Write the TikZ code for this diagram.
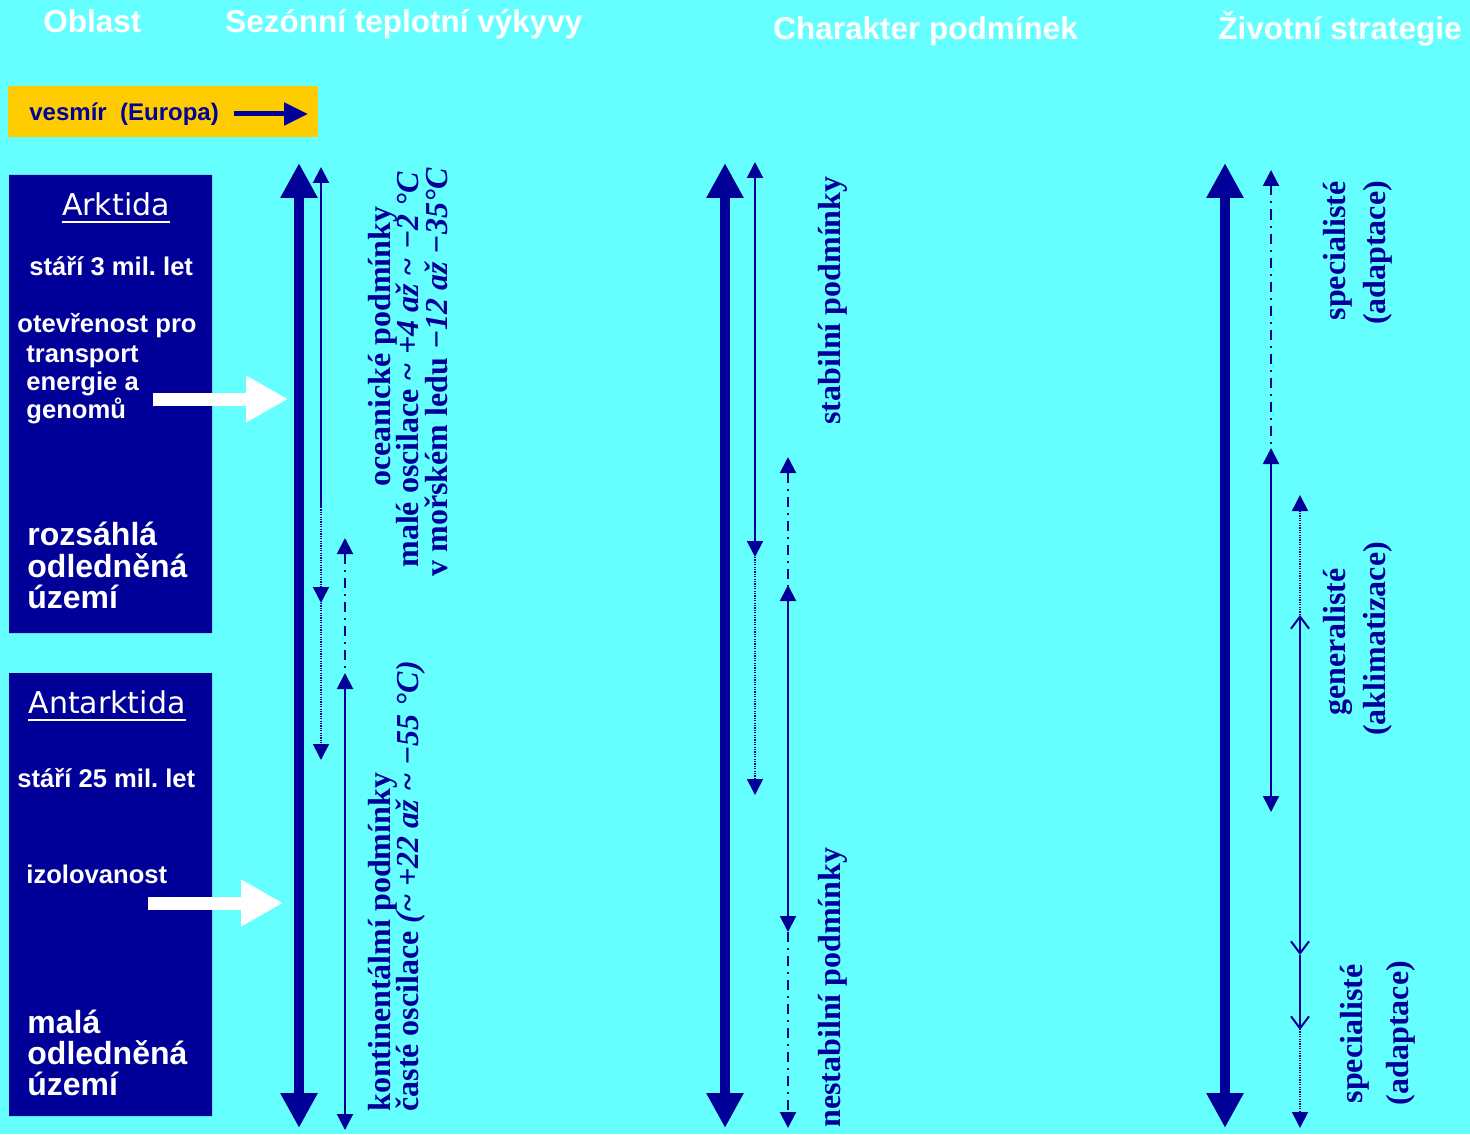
\documentclass[tikz,border=0pt]{standalone}
\usepackage{fontspec}
\setmainfont{Liberation Serif}
\setsansfont{Liberation Sans}
\newfontfamily\comicfont{DejaVu Sans}
\usetikzlibrary{arrows.meta}
\definecolor{tyrkys}{HTML}{66FFFF}
\definecolor{modra}{HTML}{000099}
\definecolor{zluta}{HTML}{FFCC00}
\frenchspacing
\newcommand{\kurz}[1]{{\itshape #1}}
\tikzset{
	hlav/.style={anchor=base west,inner sep=0pt,text=white,font=\sffamily\bfseries\fontsize{15.75}{18}\selectfont},
	maly/.style={anchor=base west,inner sep=0pt,text=white,font=\sffamily\bfseries\fontsize{12.8}{15}\selectfont},
	velky/.style={anchor=base west,inner sep=0pt,text=white,font=\sffamily\bfseries\fontsize{16}{19}\selectfont},
	nazev/.style={anchor=base,inner sep=0pt,text=white,font=\comicfont\fontsize{15}{18}\selectfont},
	svisly/.style={rotate=90,anchor=base west,inner sep=0pt,text=modra,font=\bfseries\fontsize{16}{16}\selectfont},
	svislyc/.style={svisly,anchor=base},
	osa/.style={draw=modra,line width=5pt,{Triangle[width=17.5pt,length=17.5pt]}-{Triangle[width=17.5pt,length=17.5pt]}},
	plna/.style={draw=modra,line width=1pt},
	tecky/.style={draw=modra,line width=0.8pt,dash pattern=on 0.6pt off 0.6pt},
	carka/.style={draw=modra,line width=1pt,dash pattern=on 5pt off 3pt on 1pt off 3pt},
	sipka/.style={draw=white,line width=6.5pt,-{Triangle[width=22pt,length=21pt]}},
	otev/.tip={Straight Barb[width=9pt,length=6pt,line width=1pt]}
}
\begin{document}
\begin{tikzpicture}[x=0.5pt,y=-0.5pt,>={Triangle[width=8pt,length=8pt]}]
				\useasboundingbox (0,0) rectangle (1470,1134)
				;
				\fill[tyrkys] (0,0) rectangle (1470,1134)
				;
				\foreach \x/\y/\t in {43/33/Oblast, 225/33/Sezónní teplotní výkyvy, 773/40/Charakter podmínek, 1218/40/Životní strategie} \node[hlav] at (\x,\y) {\t}
				;
				\fill[zluta] (8,86) rectangle (318,137)
				;
				\node[anchor=base west,inner sep=0pt,text=modra,font=\sffamily\bfseries\fontsize{12}{14}\selectfont] (vesmir) at (29,121) {vesmír\ \ (Europa)}
				;
				\path
				(234,114) coordinate (V1)
				(308,114) coordinate (V2)
				;
				\draw[modra,line width=2.5pt,-{Triangle[width=11pt,length=12pt]}] (V1)--(V2)
				;
				\fill[modra] (9,175) rectangle (212,633) (9,673) rectangle (212,1116)
				;
				\node[nazev] (ark) at (116,215) {Arktida}
				;
				\node[nazev] (ant) at (107,713) {Antarktida}
				;
				\foreach \n in {ark,ant} \draw[white,line width=1.2pt] ([yshift=-3.5pt]\n.base west)--([yshift=-3.5pt]\n.base east)
				;
				\foreach \x/\y/\t in {29/275/stáří 3 mil. let, 17/332/otevřenost pro, 26/362/transport, 26/390/energie a, 26/418/genomů, 17/787/stáří 25 mil. let, 26/883/izolovanost} \node[maly] at (\x,\y) {\t}
				;
				\foreach \y/\t in {545/rozsáhlá, 577/odledněná, 608/území, 1033/malá, 1064/odledněná, 1095/území} \node[velky] at (27,\y) {\t}
				;
				\path
				(153,399) coordinate (S1) (288,399) coordinate (S2)
				(148,903) coordinate (S3) (283,903) coordinate (S4)
				;
				\draw[sipka] (S1)--(S2) ;
				\draw[sipka] (S3)--(S4)
				;
				\path
				(299,163) coordinate (T1) (299,1128) coordinate (B1)
				(725,163) coordinate (T2) (725,1128) coordinate (B2)
				(1225,163) coordinate (T3) (1225,1128) coordinate (B3)
				;
				\foreach \c in {1,2,3} \draw[osa] (T\c)--(B\c)
				;
				\path
				(321,167) coordinate (a1) (321,507) coordinate (a2) (321,603) coordinate (a3) (321,760) coordinate (a4)
				(345,538) coordinate (b1) (345,673) coordinate (b2) (345,1130) coordinate (b3)
				(755,162) coordinate (c1) (755,557) coordinate (c2) (755,795) coordinate (c3)
				(788,457) coordinate (d1) (788,585) coordinate (d2) (788,932) coordinate (d3) (788,1128) coordinate (d4)
				(1271,170) coordinate (e1) (1271,448) coordinate (e2) (1271,812) coordinate (e3)
				(1300,495) coordinate (f1) (1300,615) coordinate (f2) (1300,955) coordinate (f3) (1300,1030) coordinate (f4) (1300,1128) coordinate (f5)
				;
				\draw[plna,<-] (a1)--(a2) ;
				\draw[tecky,->] (a2)--(a3) ;
				\draw[tecky,->] (a3)--(a4) ;
				\draw[carka,<-] (b1)--(b2) ;
				\draw[plna,<->] (b2)--(b3)
				;
				\draw[plna,<->] (c1)--(c2) ;
				\draw[tecky,->] (c2)--(c3) ;
				\draw[carka,<-] (d1)--(d2) ;
				\draw[plna,<->] (d2)--(d3) ;
				\draw[carka,->] (d3)--(d4)
				;
				\draw[carka,<-] (e1)--(e2) ;
				\draw[plna,<->] (e2)--(e3) ;
				\draw[tecky,<->] (f1)--(f5) ;
				\draw[plna,otev-otev] (f2)--(f3) ;
				\draw[plna,-otev] (f3)--(f4)
				;
				\node[svisly] (ocean) at (390,487) {oceanické podmínky};
				\node[svisly] (male) at (418,568) {malé oscilace \kurz{\textasciitilde\ +4 až \textasciitilde\ −2 °C}};
				\node[svisly] (led) at (447,577) {v mořském ledu \kurz{−12 až −35°C}};
				\node[svisly] (kont) at (390,1112) {kontinentálmí podmínky};
				\node[svisly] (caste) at (418,1112) {časté oscilace \kurz{(\textasciitilde\ +22 až \textasciitilde\ −55 °C)}};
				\node[svisly] (stab) at (840,425) {stabilní podmínky};
				\node[svisly] (nestab) at (840,1128) {nestabilní podmínky};
				\node[svislyc] (spec1) at (1345,251) {specialisté};
				\node[svislyc] (adap1) at (1385,253) {(adaptace)};
				\node[svislyc] (gen) at (1345,642) {generalisté};
				\node[svislyc] (akl) at (1385,639) {(aklimatizace)};
				\node[svislyc] (spec2) at (1362,1034) {specialisté};
				\node[svislyc] (adap2) at (1408,1033) {(adaptace)}
				;
		\end{tikzpicture}
\end{document}
